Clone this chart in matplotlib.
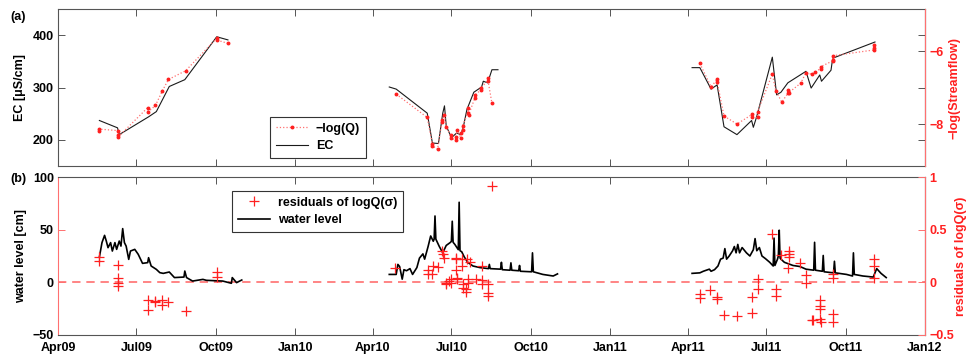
import numpy as np
import matplotlib.pyplot as plt
import matplotlib.dates as mdates
from matplotlib.ticker import FuncFormatter

plt.rcParams['font.family'] = ['Liberation Sans', 'DejaVu Sans']
plt.rcParams['font.weight'] = 'bold'
plt.rcParams['axes.labelweight'] = 'bold'
plt.rcParams['font.size'] = 9

# electrical conductivity, grab samples
ec_dates = ["2009-05-19", "2009-06-09", "2009-06-11", "2009-07-15", "2009-07-24", "2009-08-08",
            "2009-08-26", "2009-10-02", "2009-10-15",
            "2010-04-20", "2010-04-28", "2010-06-03", "2010-06-09", "2010-06-16", "2010-06-21",
            "2010-06-23", "2010-06-25", "2010-07-01", "2010-07-07", "2010-07-12", "2010-07-15",
            "2010-07-19", "2010-07-27", "2010-08-05", "2010-08-07", "2010-08-12", "2010-08-17",
            "2010-08-24",
            "2011-04-06", "2011-04-15", "2011-04-28", "2011-05-05", "2011-05-13", "2011-05-28",
            "2011-06-14", "2011-06-16", "2011-06-20", "2011-07-08", "2011-07-13", "2011-07-18",
            "2011-07-26", "2011-08-16", "2011-08-22", "2011-09-01", "2011-09-03", "2011-09-14",
            "2011-09-16", "2011-11-04"]
ec_values = [237, 223, 210, 244, 254, 302, 315, 397, 391,
             301, 297, 251, 194, 193, 251, 265, 227, 204, 213, 210, 226, 258, 291, 301, 312,
             309, 334, 334,
             338, 338, 297, 305, 225, 210, 237, 224, 245, 358, 286, 291, 309, 331, 299, 324,
             312, 333, 356, 387]

# -log(Q) at the sampling times
q_dates = ["2009-05-19", "2009-05-19", "2009-06-10", "2009-06-10", "2009-06-10", "2009-07-14",
           "2009-07-14", "2009-07-23", "2009-07-31", "2009-08-07", "2009-08-27", "2009-10-02",
           "2009-10-02", "2009-10-15",
           "2010-04-28", "2010-06-03", "2010-06-09", "2010-06-09", "2010-06-15", "2010-06-20",
           "2010-06-20", "2010-06-23", "2010-06-25", "2010-06-30", "2010-06-30", "2010-07-06",
           "2010-07-06", "2010-07-08", "2010-07-12", "2010-07-12", "2010-07-14", "2010-07-14",
           "2010-07-20", "2010-07-20", "2010-07-21", "2010-07-28", "2010-07-28", "2010-08-04",
           "2010-08-04", "2010-08-12", "2010-08-12", "2010-08-17",
           "2011-04-15", "2011-04-28", "2011-05-05", "2011-05-05", "2011-05-13", "2011-05-28",
           "2011-06-15", "2011-06-15", "2011-06-21", "2011-06-21", "2011-07-08", "2011-07-12",
           "2011-07-19", "2011-07-26", "2011-07-26", "2011-07-27", "2011-08-10", "2011-08-16",
           "2011-08-23", "2011-08-27", "2011-09-02", "2011-09-02", "2011-09-16", "2011-09-16",
           "2011-09-16", "2011-11-03", "2011-11-03", "2011-11-03"]
q_values = [-8.18, -8.14, -8.18, -8.30, -8.35, -7.55, -7.68, -7.49, -7.09, -6.78, -6.54, -5.65,
            -5.70, -5.79,
            -7.18, -7.82, -8.55, -8.60, -8.69, -7.94, -7.89, -7.75, -8.07, -8.30, -8.39, -8.44,
            -8.35, -8.16, -8.39, -8.25, -8.16, -8.05, -7.69, -7.57, -7.75, -7.30, -7.21, -7.07,
            -7.02, -6.81, -6.75, -7.43,
            -6.34, -6.98, -6.78, -6.84, -7.78, -8.00, -7.73, -7.82, -7.82, -7.66, -6.63, -7.09,
            -7.40, -7.16, -7.07, -7.14, -6.88, -6.59, -6.64, -6.57, -6.48, -6.43, -6.27, -6.25,
            -6.13, -5.97, -5.91, -5.84]

# logger water level [cm]
wl_dates = ["2009-05-19", "2009-05-22", "2009-05-25", "2009-05-27", "2009-05-29", "2009-06-01",
            "2009-06-03", "2009-06-06", "2009-06-08", "2009-06-11", "2009-06-13", "2009-06-15",
            "2009-06-17", "2009-06-19", "2009-06-22", "2009-06-24", "2009-06-29", "2009-07-03",
            "2009-07-08", "2009-07-14", "2009-07-15", "2009-07-18", "2009-07-24", "2009-07-28",
            "2009-08-01", "2009-08-08", "2009-08-14", "2009-08-25", "2009-08-26", "2009-08-28",
            "2009-09-04", "2009-09-16", "2009-09-20", "2009-10-09", "2009-10-19", "2009-10-20",
            "2009-10-25", "2009-10-31",
            "2010-04-20", "2010-04-28", "2010-04-30", "2010-05-02", "2010-05-05", "2010-05-07",
            "2010-05-10", "2010-05-14", "2010-05-17", "2010-05-22", "2010-05-25", "2010-05-29",
            "2010-05-31", "2010-06-04", "2010-06-07", "2010-06-10", "2010-06-11", "2010-06-12",
            "2010-06-13", "2010-06-17", "2010-06-21", "2010-06-25", "2010-06-30", "2010-07-01",
            "2010-07-02", "2010-07-03", "2010-07-05", "2010-07-09", "2010-07-10", "2010-07-11",
            "2010-07-13", "2010-07-16", "2010-07-20", "2010-07-26", "2010-08-03", "2010-08-13",
            "2010-08-14", "2010-08-15", "2010-08-27", "2010-08-28", "2010-08-29", "2010-09-07",
            "2010-09-08", "2010-09-09", "2010-09-17", "2010-09-18", "2010-09-19", "2010-10-02",
            "2010-10-03", "2010-10-04", "2010-10-15", "2010-10-27", "2010-11-01",
            "2011-04-06", "2011-04-15", "2011-04-19", "2011-04-26", "2011-04-28", "2011-05-02",
            "2011-05-06", "2011-05-09", "2011-05-12", "2011-05-14", "2011-05-16", "2011-05-19",
            "2011-05-23", "2011-05-25", "2011-05-27", "2011-05-29", "2011-05-31", "2011-06-03",
            "2011-06-08", "2011-06-12", "2011-06-16", "2011-06-18", "2011-06-20", "2011-06-23",
            "2011-06-26", "2011-06-30", "2011-07-05", "2011-07-09", "2011-07-10", "2011-07-11",
            "2011-07-14", "2011-07-15", "2011-07-16", "2011-07-17", "2011-07-18", "2011-07-22",
            "2011-08-01", "2011-08-09", "2011-08-16", "2011-08-25", "2011-08-26", "2011-08-27",
            "2011-09-04", "2011-09-05", "2011-09-06", "2011-09-17", "2011-09-18", "2011-09-19",
            "2011-10-02", "2011-10-09", "2011-10-10", "2011-10-11", "2011-10-21", "2011-11-02",
            "2011-11-06", "2011-11-11", "2011-11-17"]
wl_values = [24, 37.7, 44.6, 39.2, 32.9, 37.7, 29.7, 37.7, 31.3, 39.2, 34.4, 51, 37.7, 34.4,
             21.8, 29.7, 31.3, 26.6, 18, 18.7, 23.4, 15.5, 12.3, 9.2, 8.5, 9.8, 4.5, 5, 10.7,
             4.5, 1.2, 2.8, 1.9, 1.2, -0.9, 4.5, -0.3, 2.2,
             7.5, 7.5, 17, 15, 3, 12, 11, 13, 7.5, 14, 23, 27, 22, 34, 44, 39, 41, 63, 41, 34,
             28, 35, 38, 39, 58, 38, 36, 31, 76, 30, 29, 24, 19, 15.5, 14, 13, 17, 13, 12.5, 19,
             12, 11.5, 18.5, 11.5, 11, 16, 10.5, 10, 28, 10, 7.5, 6, 8,
             8.5, 9, 10.5, 12.5, 10.5, 12, 15.5, 22, 23, 32, 22, 25, 30, 34, 28, 36, 28, 33, 28,
             25, 31, 41.5, 30, 33, 25, 22.5, 19, 15.5, 42, 16, 22, 25, 49.5, 23, 22, 19, 16, 15,
             12.5, 11.5, 38, 11.5, 10.5, 25.5, 10, 9, 20, 9, 7.5, 6, 28, 7.5, 6, 5, 13, 8.5, 4.5]

# residuals of logQ(sigma)
res_dates = ["2009-05-19", "2009-05-19", "2009-06-10", "2009-06-10", "2009-06-10", "2009-06-10",
             "2009-07-14", "2009-07-14", "2009-07-23", "2009-07-23", "2009-07-31", "2009-07-31",
             "2009-08-07", "2009-08-27", "2009-10-02", "2009-10-02",
             "2010-04-27", "2010-06-04", "2010-06-04", "2010-06-08", "2010-06-10", "2010-06-15",
             "2010-06-20", "2010-06-21", "2010-06-23", "2010-06-25", "2010-06-25", "2010-06-28",
             "2010-06-30", "2010-07-01", "2010-07-06", "2010-07-06", "2010-07-06", "2010-07-08",
             "2010-07-08", "2010-07-13", "2010-07-13", "2010-07-15", "2010-07-15", "2010-07-18",
             "2010-07-18", "2010-07-19", "2010-07-20", "2010-07-20", "2010-07-22", "2010-07-30",
             "2010-08-05", "2010-08-05", "2010-08-05", "2010-08-13", "2010-08-13", "2010-08-13",
             "2010-08-17",
             "2011-04-15", "2011-04-15", "2011-04-27", "2011-05-05", "2011-05-05", "2011-05-13",
             "2011-05-28", "2011-06-15", "2011-06-15", "2011-06-21", "2011-06-21", "2011-07-08",
             "2011-07-12", "2011-07-12", "2011-07-18", "2011-07-26", "2011-07-27", "2011-07-27",
             "2011-07-27", "2011-08-09", "2011-08-16", "2011-08-16", "2011-08-23", "2011-08-24",
             "2011-09-01", "2011-09-01", "2011-09-01", "2011-09-01", "2011-09-02", "2011-09-16",
             "2011-09-16", "2011-09-16", "2011-09-16", "2011-11-03", "2011-11-03", "2011-11-03"]
res_values = [0.24, 0.20, 0.16, 0.045, -0.003, -0.035, -0.17, -0.26, -0.18, -0.19, -0.17, -0.22,
              -0.19, -0.27, 0.10, 0.05,
              0.14, 0.114, 0.076, 0.076, 0.155, 0.145, 0.30, 0.27, 0.23, -0.003, -0.02, 0.012,
              -0.003, 0.028, 0.22, 0.23, 0.12, 0.045, 0.028, 0.22, 0.155, -0.02, -0.05, -0.066,
              -0.092, 0.22, 0.028, -0.003, 0.19, 0.028, 0.019, -0.02, 0.155, -0.02, -0.098,
              -0.13, 0.91,
              -0.114, -0.145, -0.073, -0.136, -0.155, -0.31, -0.32, -0.14, -0.29, 0.035, -0.066,
              0.46, -0.06, -0.13, 0.256, 0.14, 0.30, 0.27, 0.24, 0.18, 0.066, -0.003, -0.36,
              -0.36, -0.17, -0.225, -0.256, -0.345, -0.38, 0.083, 0.045, -0.30, -0.38, 0.22,
              0.155, 0.045]

RED = '#ff2020'
PINK = '#ff7070'
GREY = '#555555'


def seasons(dates, values, gap=90):
    # cut a series into field seasons so lines are not drawn over winter
    d = np.array(dates, dtype='datetime64[D]')
    v = np.asarray(values, dtype=float)
    cuts = np.where(np.diff(d).astype(int) > gap)[0] + 1
    return zip(np.split(d, cuts), np.split(v, cuts))


def signed(y, pos):
    return '\u2212%g' % abs(y) if y < 0 else '%g' % y


def style_x(ax, labels):
    ax.set_xlim(np.datetime64('2009-04-01'), np.datetime64('2012-01-01'))
    ax.xaxis.set_major_locator(mdates.MonthLocator(bymonth=(1, 4, 7, 10)))
    ax.xaxis.set_major_formatter(mdates.DateFormatter('%b%y'))
    ax.tick_params(axis='x', direction='in', top=True, length=5, width=0.7,
                   color=GREY, labelbottom=labels, labelsize=9, pad=5)
    for s in ('top', 'bottom'):
        ax.spines[s].set_color(GREY)
        ax.spines[s].set_linewidth(0.8)


fig = plt.figure(figsize=(9.68, 3.54), dpi=100)
ax1 = fig.add_axes([0.0599, 0.531, 0.8957, 0.4435])
ax1r = ax1.twinx()
ax2 = fig.add_axes([0.0599, 0.0537, 0.8957, 0.4463])
ax2r = ax2.twinx()

# (a) EC and -log(Q)
for d, v in seasons(ec_dates, ec_values):
    h_ec, = ax1.plot(d, v, color='#1a1a1a', lw=0.8)
for d, v in seasons(q_dates, q_values):
    ax1r.plot(d, v, linestyle=':', color=PINK, lw=0.9)
    ax1r.plot(d, v, linestyle='none', marker='o', ms=1.8, color=RED)
h_q, = ax1r.plot([], [], linestyle=':', color=PINK, lw=0.9, marker='o', ms=1.8,
                 mfc=RED, mec=RED)

ax1.set_ylim(150, 450)
ax1.set_yticks([200, 300, 400])
ax1.set_ylabel('EC [μS/cm]', labelpad=5)
ax1.tick_params(axis='y', direction='in', right=True, length=5, width=0.7, color=GREY,
                labelsize=9, pad=3)
ax1.spines['left'].set_color(GREY)
style_x(ax1, False)

ax1r.set_ylim(-9.15, -4.85)
ax1r.set_yticks([-8, -6])
ax1r.yaxis.set_major_formatter(FuncFormatter(signed))
ax1r.tick_params(axis='y', direction='in', length=5, width=0.7, color=GREY,
                 labelcolor=RED, labelsize=9, pad=3)
ax1r.set_ylabel('\u2212log(Streamflow)', color=RED, labelpad=4)
for s in ('left', 'top', 'bottom'):
    ax1r.spines[s].set_visible(False)
ax1r.spines['right'].set_color(PINK)

leg1 = ax1r.legend([h_q, h_ec], ['\u2212log(Q)', 'EC'], loc='upper left',
                   bbox_to_anchor=(0.279, 0.669), bbox_transform=fig.transFigure,
                   fancybox=False, framealpha=1, edgecolor='#333333', fontsize=9,
                   handlelength=2.6, handletextpad=0.6, borderpad=0.45, labelspacing=0.45,
                   borderaxespad=0, numpoints=1)
leg1.get_frame().set_linewidth(0.8)

# (b) water level and residuals
ax2.axhline(0, color=PINK, lw=1.2, linestyle=(0, (5, 3.5)), zorder=1)
for d, v in seasons(wl_dates, wl_values):
    h_wl, = ax2.plot(d, v, color='black', lw=1.2, zorder=2)
d_res = np.array(res_dates, dtype='datetime64[D]')
h_res, = ax2r.plot(d_res, res_values, linestyle='none', marker='+', ms=6.5, mew=0.9,
                   color=RED)

ax2.set_ylim(-50, 100)
ax2.set_yticks([-50, 0, 50, 100])
ax2.yaxis.set_major_formatter(FuncFormatter(signed))
ax2.set_ylabel('water level [cm]', labelpad=4)
ax2.tick_params(axis='y', direction='in', length=5, width=0.7, color=PINK,
                labelsize=9, pad=3)
ax2.spines['left'].set_color(PINK)
style_x(ax2, True)

ax2r.set_ylim(-0.5, 1)
ax2r.set_yticks([-0.5, 0, 0.5, 1])
ax2r.yaxis.set_major_formatter(FuncFormatter(signed))
ax2r.tick_params(axis='y', direction='in', length=5, width=0.7, color=PINK,
                 labelcolor=RED, labelsize=9, pad=3)
ax2r.set_ylabel('residuals of logQ(σ)', color=RED, labelpad=1)
for s in ('left', 'top', 'bottom'):
    ax2r.spines[s].set_visible(False)
ax2r.spines['right'].set_color(PINK)

leg2 = ax2r.legend([h_res, h_wl], ['residuals of logQ(σ)', 'water level'], loc='upper left',
                   bbox_to_anchor=(0.2397, 0.4605), bbox_transform=fig.transFigure,
                   fancybox=False, framealpha=1, edgecolor='#333333', fontsize=9,
                   handlelength=2.6, handletextpad=0.6, borderpad=0.45, labelspacing=0.45,
                   borderaxespad=0, numpoints=1)
leg2.get_frame().set_linewidth(0.8)

fig.text(0.011, 0.953, '(a)', fontsize=9, va='center')
fig.text(0.011, 0.494, '(b)', fontsize=9, va='center')

fig.savefig('out.png', dpi=100)
